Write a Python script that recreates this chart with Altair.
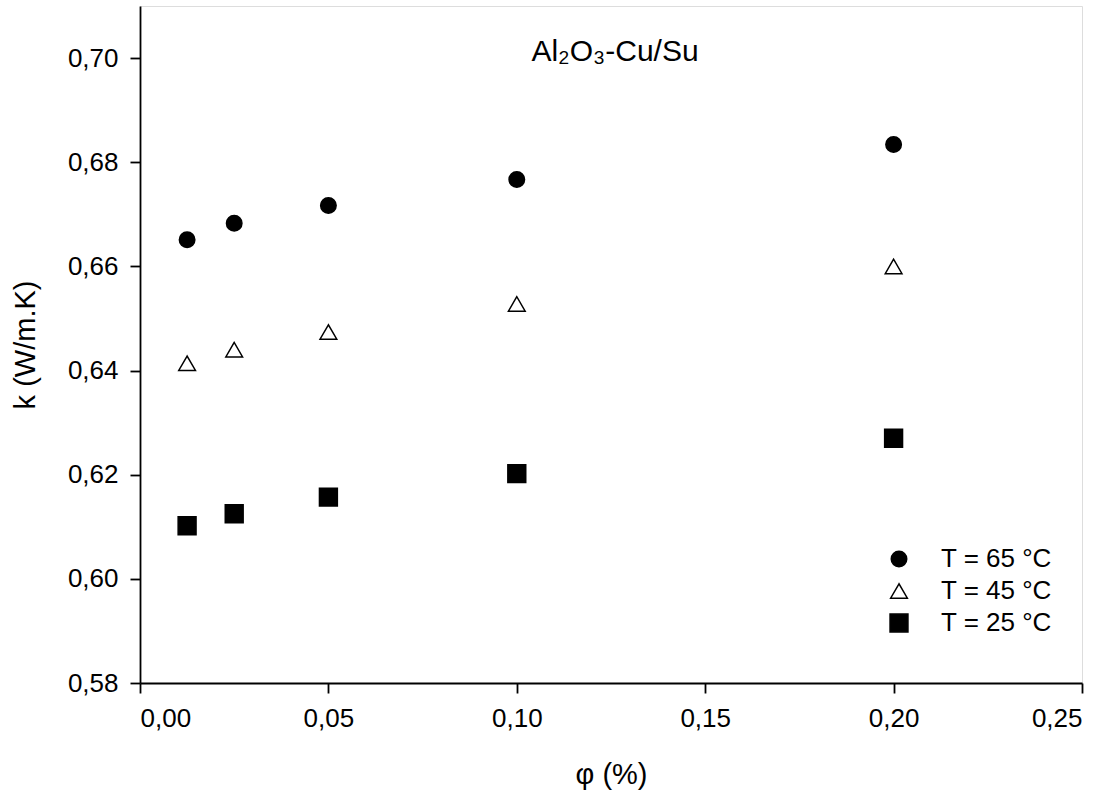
import altair as alt
import pandas as pd

phi = [0.0125, 0.025, 0.05, 0.10, 0.20]
k_65 = [0.6651, 0.6683, 0.6717, 0.6767, 0.6834]
k_45 = [0.6414, 0.6440, 0.6474, 0.6528, 0.6600]
k_25 = [0.6102, 0.6125, 0.6157, 0.6202, 0.6270]
series = ["T = 65 °C", "T = 45 °C", "T = 25 °C"]
shapes = ["circle", "triangle-up", "square"]
fills = ["black", "white", "black"]
strokes = ["black", "black", "black"]
sizes = [240, 320, 256]
x_ticks = [0.0, 0.05, 0.10, 0.15, 0.20, 0.25]
y_ticks = [0.58, 0.60, 0.62, 0.64, 0.66, 0.68, 0.70]
title_text = "Al₂O₃-Cu/Su"

rows = []
for name, vals in zip(series, [k_65, k_45, k_25]):
    for p, v in zip(phi, vals):
        rows.append({"phi": p, "k": v, "T": name})
df = pd.DataFrame(rows)

FONT = "Liberation Sans"
W, H = 942, 677
fmt = "replace(format(datum.value, '.2f'), '.', ',')"

x_axis = alt.Axis(values=x_ticks, labelExpr=fmt, title="φ (%)", grid=False,
                  tickSize=10, tickWidth=1.8, tickColor="black",
                  domainColor="black", domainWidth=1.8,
                  labelFont=FONT, labelFontSize=26, labelColor="black", labelPadding=12,
                  titleFont=FONT, titleFontSize=29, titleFontWeight="normal", titleColor="black",
                  titleX=W / 2, titleY=100, titleBaseline="alphabetic", titleAlign="center")
y_axis = alt.Axis(values=y_ticks, labelExpr=fmt, title="k (W/m.K)", grid=False,
                  tickSize=10, tickWidth=1.8, tickColor="black",
                  domainColor="black", domainWidth=1.8,
                  labelFont=FONT, labelFontSize=26, labelColor="black", labelPadding=12,
                  titleFont=FONT, titleFontSize=29, titleFontWeight="normal", titleColor="black",
                  titleX=-115, titleY=H / 2, titleAngle=-90, titleBaseline="middle", titleAlign="center")


def leg():
    return alt.Legend(orient="none", legendX=746, legendY=540, padding=0, title=None,
                      labelFont=FONT, labelFontSize=26, labelColor="black", labelOffset=29,
                      symbolStrokeColor="black", symbolStrokeWidth=1.5, rowPadding=6)


points = alt.Chart(df).mark_point(filled=True, strokeWidth=1.5, opacity=1).encode(
    x=alt.X("phi:Q", scale=alt.Scale(domain=[0, 0.25], nice=False, zero=False), axis=x_axis),
    y=alt.Y("k:Q", scale=alt.Scale(domain=[0.58, 0.71], nice=False, zero=False), axis=y_axis),
    shape=alt.Shape("T:N", scale=alt.Scale(domain=series, range=shapes), legend=leg()),
    fill=alt.Fill("T:N", scale=alt.Scale(domain=series, range=fills), legend=leg()),
    stroke=alt.Stroke("T:N", scale=alt.Scale(domain=series, range=strokes), legend=leg()),
    size=alt.Size("T:N", scale=alt.Scale(domain=series, range=sizes), legend=leg()),
)

title = alt.Chart(pd.DataFrame({"t": [title_text]})).mark_text(
    font=FONT, fontSize=30, color="black", align="center", baseline="alphabetic"
).encode(text="t:N", x=alt.value(475), y=alt.value(55))

chart = alt.layer(points, title).properties(
    width=W, height=H,
    autosize=alt.AutoSizeParams(type="none"),
    padding={"left": 140, "top": 6, "right": 35, "bottom": 120},
).configure_view(stroke="black", strokeWidth=1.8).configure(background="white")

chart.save("out.html", embed_options={"renderer": "svg", "actions": False})
